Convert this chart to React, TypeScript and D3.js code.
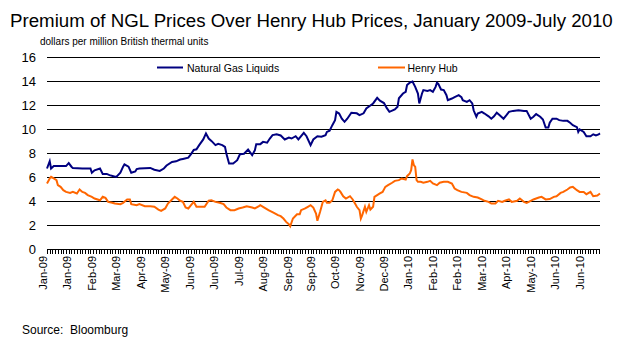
import React from "react";
import * as d3 from "d3";

const TITLE = "Premium of NGL Prices Over Henry Hub Prices, January 2009-July 2010";
const SUBTITLE = "dollars per million British thermal units";
const SOURCE = "Source:  Bloomburg";

const yTicks = [0, 2, 4, 6, 8, 10, 12, 14, 16];

const xLabels = [
  "Jan-09", "Jan-09", "Feb-09", "Mar-09", "Apr-09", "May-09", "Jun-09", "Jun-09",
  "Jul-09", "Aug-09", "Sep-09", "Sep-09", "Oct-09", "Nov-09", "Dec-09", "Jan-10",
  "Feb-10", "Feb-10", "Mar-10", "Apr-10", "May-10", "Jun-10", "Jun-10",
];
const xLabelObs = [0, 18, 36, 54, 72, 90, 108, 126, 144, 162, 180, 197, 215, 233, 251, 269, 287, 305, 323, 341, 359, 377, 395];

const OBS_COUNT = 407;

// [observation index, $/MMBtu]
const ngl: [number, number][] = [
  [0,6.75],[2,7.36],[3,6.75],[5,6.95],[10,6.95],[14,6.95],[16,7.2],[18,6.9],[19,6.8],[26,6.75],[32,6.75],[33,6.4],[35,6.6],[39,6.75],[41,6.3],[44,6.3],[46,6.2],[49,6.1],[51,6.05],[54,6.4],[56,6.9],[57,7.1],[60,6.9],[62,6.4],[65,6.5],[66,6.7],[68,6.75],[76,6.8],[79,6.65],[83,6.55],[86,6.75],[88,7.0],[92,7.3],[95,7.35],[98,7.5],[100,7.55],[104,7.65],[106,7.95],[108,8.3],[110,8.35],[112,8.7],[115,9.17],[117,9.67],[119,9.25],[121,9.05],[124,8.7],[126,8.8],[129,8.7],[131,8.55],[132,8.0],[134,7.17],[137,7.17],[140,7.44],[142,7.94],[145,7.98],[148,8.33],[151,7.86],[153,8.28],[154,8.78],[157,8.78],[159,8.97],[162,8.9],[164,9.25],[166,9.53],[169,9.6],[172,9.5],[175,9.17],[178,9.33],[180,9.25],[183,9.44],[185,9.17],[189,9.72],[191,9.44],[194,8.7],[196,9.17],[199,9.44],[202,9.4],[205,9.53],[206,9.8],[208,9.9],[210,10.36],[212,10.78],[213,11.47],[215,11.33],[217,10.9],[219,10.64],[221,10.9],[224,11.4],[228,11.35],[230,11.2],[233,11.35],[235,11.75],[238,12.0],[240,12.17],[243,12.64],[245,12.4],[248,12.2],[250,11.8],[252,11.47],[256,11.67],[258,11.9],[259,12.6],[262,13.0],[264,13.14],[265,13.7],[267,13.9],[269,14.0],[271,13.55],[273,13.0],[274,12.17],[276,13.0],[277,13.28],[280,13.22],[282,13.28],[284,13.14],[286,13.55],[287,13.9],[288,13.8],[290,13.33],[292,13.28],[294,12.86],[295,12.44],[298,12.58],[300,12.7],[303,12.86],[305,12.7],[306,12.44],[309,12.3],[311,12.44],[313,12.17],[314,11.6],[316,11.06],[317,11.33],[320,11.47],[322,11.33],[325,11.1],[327,10.9],[329,11.1],[331,11.4],[333,11.2],[336,10.9],[338,11.17],[340,11.47],[343,11.55],[347,11.6],[351,11.55],[353,11.55],[356,10.9],[358,11.06],[360,11.28],[363,11.06],[365,10.83],[367,10.17],[369,10.17],[370,10.56],[372,10.9],[375,10.9],[377,10.78],[380,10.72],[383,10.72],[385,10.56],[387,10.36],[390,10.2],[391,9.8],[392,10.0],[395,9.8],[397,9.44],[400,9.44],[402,9.6],[404,9.5],[406,9.6],[407,9.67],
];

const henryHub: [number, number][] = [
  [0,5.5],[2,5.92],[3,6.06],[5,5.92],[7,5.78],[8,5.36],[10,5.22],[12,4.94],[14,4.8],[17,4.72],[19,4.8],[22,4.67],[24,5.0],[26,4.8],[28,4.72],[30,4.53],[33,4.39],[35,4.25],[39,4.1],[41,4.39],[43,4.3],[45,3.97],[48,3.9],[50,3.83],[54,3.78],[56,3.89],[59,4.17],[61,4.17],[62,3.78],[66,3.69],[68,3.78],[72,3.61],[76,3.61],[79,3.56],[82,3.33],[84,3.22],[87,3.42],[89,3.83],[92,4.17],[94,4.39],[96,4.25],[98,4.06],[100,3.97],[102,3.5],[104,3.42],[106,3.69],[108,3.97],[110,3.56],[116,3.56],[119,4.06],[121,4.1],[124,3.97],[127,3.89],[130,3.78],[132,3.5],[135,3.28],[138,3.28],[141,3.42],[144,3.5],[147,3.61],[151,3.5],[153,3.42],[156,3.61],[157,3.69],[159,3.56],[163,3.28],[167,3.06],[170,2.86],[172,2.78],[174,2.58],[176,2.3],[178,2.11],[179,1.94],[181,2.58],[184,2.94],[186,2.94],[187,3.28],[190,3.42],[192,3.56],[194,3.69],[196,3.5],[198,3.0],[199,2.39],[201,3.14],[203,3.97],[205,4.1],[206,3.89],[208,3.89],[210,4.1],[212,4.8],[214,5.0],[215,4.94],[216,4.8],[218,4.44],[220,4.25],[223,4.44],[225,4.17],[227,3.78],[228,3.56],[230,3.28],[231,2.58],[232,2.86],[234,3.56],[235,3.14],[237,3.69],[238,3.33],[240,3.56],[241,4.39],[243,4.53],[245,4.67],[247,4.8],[249,5.22],[251,5.36],[254,5.56],[256,5.72],[259,5.78],[261,5.92],[264,5.83],[265,6.11],[267,6.33],[268,6.61],[269,7.5],[270,7.03],[271,6.89],[272,5.78],[273,5.64],[275,5.64],[277,5.56],[280,5.64],[282,5.72],[284,5.5],[287,5.36],[289,5.56],[292,5.64],[295,5.64],[298,5.5],[300,5.08],[302,4.94],[305,4.8],[309,4.72],[311,4.53],[314,4.39],[317,4.33],[320,4.17],[322,4.06],[325,3.97],[327,3.83],[330,3.83],[332,4.06],[335,3.97],[337,4.06],[340,4.17],[342,3.97],[346,4.06],[348,4.25],[351,3.97],[353,3.89],[356,4.06],[358,4.17],[362,4.33],[364,4.39],[367,4.17],[370,4.2],[373,4.39],[375,4.44],[378,4.72],[380,4.8],[383,5.0],[385,5.17],[387,5.22],[390,4.94],[392,4.8],[395,4.8],[397,4.61],[400,4.8],[402,4.44],[405,4.5],[407,4.67],
];

const NAVY = "#000080";
const ORANGE = "#FF6600";
const FONT = "'Liberation Sans', Arial, sans-serif";

export default function App() {
  const W = 632, H = 348;
  const x = d3.scaleLinear().domain([0, OBS_COUNT]).range([47, 600]);
  const y = d3.scaleLinear().domain([0, 16]).range([249.5, 57.5]);
  const line = d3.line<[number, number]>().x(d => x(d[0])).y(d => y(d[1]));
  const tickObs = d3.range(0, OBS_COUNT, 2);

  React.useEffect(() => {
    document.body.style.margin = "0";
  }, []);

  return (
    <svg width={W} height={H} style={{ display: "block", background: "#fff", fontFamily: FONT }}>
      <rect x={0} y={0} width={W} height={H} fill="#fff" />
      <text x={10} y={27} fontSize={18.7} fill="#000">{TITLE}</text>
      <text x={40} y={45} fontSize={10} fill="#000">{SUBTITLE}</text>

      {yTicks.map(v => (
        <g key={v}>
          <line x1={47} x2={600} y1={y(v)} y2={y(v)} stroke="#000" strokeWidth={1} />
          <text x={36} y={y(v) + 4.5} fontSize={13} textAnchor="end" fill="#000">{v}</text>
        </g>
      ))}

      {tickObs.map(o => (
        <line key={o} x1={Math.round(x(o)) + 0.5} x2={Math.round(x(o)) + 0.5} y1={249} y2={254} stroke="#000" strokeWidth={1} />
      ))}

      {xLabels.map((lab, i) => (
        <text
          key={i}
          transform={`translate(${x(xLabelObs[i]) - 4},256) rotate(-90)`}
          fontSize={11}
          textAnchor="end"
          dominantBaseline="central"
          fill="#000"
        >{lab}</text>
      ))}

      <path d={line(henryHub) || ""} fill="none" stroke={ORANGE} strokeWidth={2} strokeLinejoin="miter" />
      <path d={line(ngl) || ""} fill="none" stroke={NAVY} strokeWidth={2} strokeLinejoin="miter" />

      <line x1={157} x2={183} y1={67.5} y2={67.5} stroke={NAVY} strokeWidth={2} />
      <text x={187} y={71.5} fontSize={10.5} fill="#000">Natural Gas Liquids</text>
      <line x1={378} x2={405} y1={67.5} y2={67.5} stroke={ORANGE} strokeWidth={2} />
      <text x={407.5} y={71.5} fontSize={10.5} fill="#000">Henry Hub</text>

      <text x={22} y={334} fontSize={12} fill="#000" style={{ whiteSpace: "pre" }}>{SOURCE}</text>
    </svg>
  );
}
